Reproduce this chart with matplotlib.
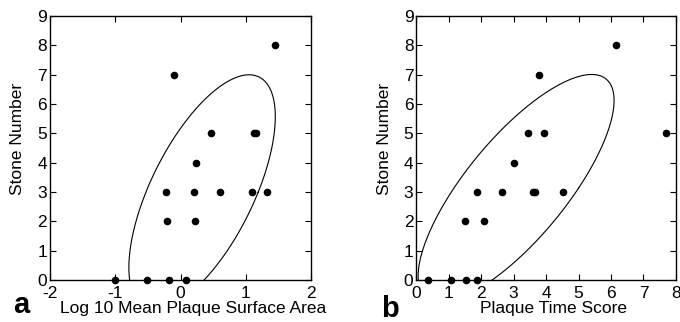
import numpy as np
import matplotlib
matplotlib.use("Agg")
import matplotlib.pyplot as plt

plt.rcParams['font.family'] = ['Liberation Sans', 'DejaVu Sans']
plt.rcParams['axes.unicode_minus'] = False

# Panel a: log10 mean plaque surface area vs stone number
area_x = [-1.00, -0.51, -0.18, 0.08, -0.20, 0.22, -0.22, 0.20, 0.61, 1.09, 1.33,
          0.24, 0.47, 1.12, 1.16, -0.10, 1.44]
area_y = [0, 0, 0, 0, 2, 2, 3, 3, 3, 3, 3, 4, 5, 5, 5, 7, 8]

# Panel b: plaque time score vs stone number
time_x = [0.36, 1.08, 1.52, 1.88, 1.51, 2.09, 1.88, 2.64, 3.60, 3.66, 4.53,
          3.02, 3.44, 3.93, 7.68, 3.79, 6.17]
time_y = [0, 0, 0, 0, 2, 2, 3, 3, 3, 3, 3, 4, 5, 5, 5, 7, 8]

# ellipse parameters: (x intercept of chord midline, midline slope, half width, y centre, y half height)
ellipse_a = (-0.21, 0.18, 0.86, 3.0, 4.0)
ellipse_b = (1.20, 0.60, 1.92, 3.13, 3.88)


def draw_ellipse(ax, params):
    x0, slope, w, cy, sy = params
    t = np.linspace(0, 2 * np.pi, 400)
    y = cy + sy * np.sin(t)
    x = x0 + slope * y + w * np.cos(t)
    ax.plot(x, y, color='black', lw=0.8)


def style_axes(ax, xlim, xticks):
    ax.set_xlim(*xlim)
    ax.set_ylim(0, 9)
    ax.set_xticks(xticks)
    ax.set_yticks(range(0, 10))
    ax.tick_params(direction='in', top=True, right=True, length=4, width=0.8,
                   labelsize=12.5, pad=2)
    ax.tick_params(axis='x', pad=4)
    for s in ax.spines.values():
        s.set_linewidth(1.0)
    ax.set_ylabel('Stone Number', fontsize=12.5)
    ax.yaxis.set_label_coords(-0.094, 0.535, transform=ax.transAxes)


fig = plt.figure(figsize=(6.8, 3.22), dpi=100)
ax1 = fig.add_axes([0.0735, 0.130, 0.384, 0.820])
ax2 = fig.add_axes([0.612, 0.130, 0.382, 0.820])

draw_ellipse(ax1, ellipse_a)
ax1.scatter(area_x, area_y, s=20, color='black', clip_on=False, zorder=3)
style_axes(ax1, (-2, 2), [-2, -1, 0, 1, 2])
ax1.set_xlabel('Log 10 Mean Plaque Surface Area', fontsize=12.5)
ax1.xaxis.set_label_coords(0.55, -0.08, transform=ax1.transAxes)
ax1.xaxis.label.set_va('top')

draw_ellipse(ax2, ellipse_b)
ax2.scatter(time_x, time_y, s=20, color='black', clip_on=False, zorder=3)
style_axes(ax2, (0, 8), range(0, 9))
ax2.set_xlabel('Plaque Time Score', fontsize=12.5)
ax2.xaxis.set_label_coords(0.53, -0.08, transform=ax2.transAxes)
ax2.xaxis.label.set_va('top')

fig.text(0.020, 0.028, 'a', fontsize=21, fontweight='bold', va='baseline')
fig.text(0.560, 0.016, 'b', fontsize=21, fontweight='bold', va='baseline')

fig.savefig('out.png', dpi=100)
